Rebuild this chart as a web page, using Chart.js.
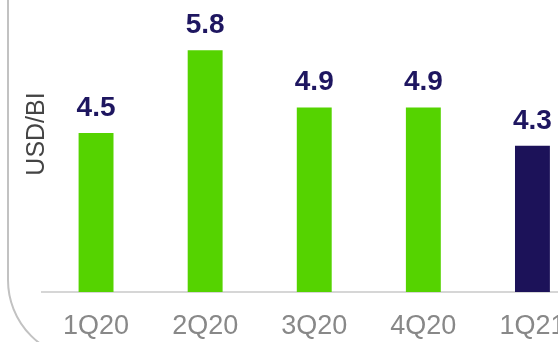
<!DOCTYPE html>
<html lang="en">
<head>
    <meta charset="UTF-8">
    <title>USD/BI</title>
    <style>
        html, body { margin: 0; padding: 0; overflow: hidden; background: #fff; }
        #wrap { width: 600px; height: 342px; }
    </style>
</head>
<body>
    <div id="wrap">
        <canvas id="myChart" width="600" height="342"></canvas>
    </div>

    <script src="https://cdn.jsdelivr.net/npm/chart.js"></script>

    <script>
        const quarters = ['1Q20', '2Q20', '3Q20', '4Q20', '1Q21'];
        const values = [4.5, 5.8, 4.9, 4.9, 4.3];
        const barColors = ['#55d300', '#55d300', '#55d300', '#55d300', '#1c1259'];
        const axisTitle = 'USD/BI';

        const fontFamily = '"Liberation Sans", Arial, sans-serif';

        // rounded frame on the left plus the rotated unit title
        const framePlugin = {
            id: 'frame',
            beforeDraw(chart) {
                const ctx = chart.ctx;
                ctx.save();
                ctx.strokeStyle = '#c2c2c2';
                ctx.lineWidth = 2;
                ctx.beginPath();
                ctx.moveTo(8, -5);
                ctx.lineTo(8, 280);
                ctx.arc(87, 280, 79, Math.PI, Math.PI / 2, true);
                ctx.stroke();

                ctx.translate(37, 134);
                ctx.rotate(-Math.PI / 2);
                ctx.fillStyle = '#444';
                ctx.font = '25px ' + fontFamily;
                ctx.textAlign = 'center';
                ctx.textBaseline = 'middle';
                ctx.fillText(axisTitle, 0, 0);
                ctx.restore();
            }
        };

        // value above each bar
        const valueLabels = {
            id: 'valueLabels',
            afterDatasetsDraw(chart) {
                const ctx = chart.ctx;
                const meta = chart.getDatasetMeta(0);
                ctx.save();
                ctx.fillStyle = '#1e1660';
                ctx.font = 'bold 28px ' + fontFamily;
                ctx.textAlign = 'center';
                ctx.textBaseline = 'alphabetic';
                meta.data.forEach((bar, i) => {
                    ctx.fillText(values[i].toFixed(1), bar.x, bar.y - 17);
                });
                ctx.restore();
            }
        };

        const ctx = document.getElementById('myChart');

        new Chart(ctx, {
            type: 'bar',
            data: {
                labels: quarters,
                datasets: [{
                    data: values,
                    backgroundColor: barColors,
                    borderWidth: 0,
                    barPercentage: 0.32,
                    categoryPercentage: 1
                }]
            },
            options: {
                responsive: false,
                animation: false,
                layout: { padding: { left: 41.5, right: 13, top: 12, bottom: 0 } },
                plugins: {
                    legend: { display: false },
                    tooltip: { enabled: false }
                },
                scales: {
                    x: {
                        grid: { display: false, drawTicks: false },
                        border: { color: '#d6d6d6', width: 2 },
                        ticks: {
                            color: '#888',
                            padding: 18,
                            maxRotation: 0,
                            font: { size: 27, family: fontFamily }
                        },
                        afterFit(axis) { axis.height = 50; }
                    },
                    y: {
                        display: false,
                        min: 2,
                        max: 6.4
                    }
                }
            },
            plugins: [framePlugin, valueLabels]
        });
    </script>
</body>
</html>
